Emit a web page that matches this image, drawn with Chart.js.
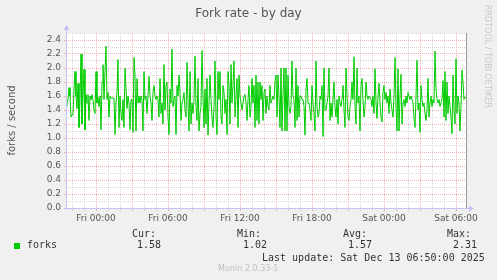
<!DOCTYPE html>
<html>
<head>
<meta charset="utf-8">
<script src="https://cdn.jsdelivr.net/npm/chart.js@4/dist/chart.umd.min.js"></script>
<style>
  html, body { margin: 0; padding: 0; background: #f0f0f0; }
  #wrap { position: relative; width: 497px; height: 280px; overflow: hidden; }
  #wrap canvas { position: absolute; left: 0; top: 0; }
  .t { position: absolute; white-space: pre; line-height: 10px; }
  .mono { font-family: "DejaVu Sans Mono", monospace; font-size: 10px; color: #333; }
</style>
</head>
<body>
<div id="wrap">
  <canvas id="forkChart" width="497" height="280"></canvas>
  <div class="t" id="title" style="left:0;width:497px;text-align:center;top:7px;font:12px 'DejaVu Sans';line-height:12px;color:#555;">Fork rate - by day</div>
  <div class="t" style="left:482px;top:5px;font:8px 'DejaVu Sans';line-height:10px;color:#c8c8c8;writing-mode:vertical-rl;">RRDTOOL / TOBI OETIKER</div>
  <div style="position:absolute;left:14px;top:243px;width:6px;height:6px;background:#00cc00;"></div>
  <div class="t mono" style="left:27px;top:240px;" id="seriesName"></div>
  <div class="t mono" style="left:132px;top:229px;">Cur:</div>
  <div class="t mono" style="left:137px;top:240px;" id="cur"></div>
  <div class="t mono" style="left:237px;top:229px;">Min:</div>
  <div class="t mono" style="left:243px;top:240px;" id="min"></div>
  <div class="t mono" style="left:343px;top:229px;">Avg:</div>
  <div class="t mono" style="left:348px;top:240px;" id="avg"></div>
  <div class="t mono" style="left:447px;top:229px;">Max:</div>
  <div class="t mono" style="left:453px;top:240px;" id="max"></div>
  <div class="t mono" style="left:262px;top:253px;">Last update: Sat Dec 13 06:50:00 2025</div>
  <div class="t" style="left:218px;top:265px;font:8px 'DejaVu Sans';line-height:8px;color:#c0c0c0;">Munin 2.0.33-1</div>
</div>
<script>
// forks per second, 5 minute samples, Thu 21:30 -> Sat 06:50
const seriesName = 'forks';
const forks = [
  1.45, 1.5,
  1.55, 1.72, 1.6, 1.3, 1.33, 1.35, 1.7, 1.95, 1.6, 1.42,
  1.78, 1.15, 1.55, 2.2, 1.2, 1.6, 1.98, 1.12, 1.62, 1.5,
  1.62, 1.25, 1.6, 1.55, 1.62, 1.55, 1.4, 1.35, 1.95, 1.5,
  1.58, 1.45, 1.6, 1.12, 1.8, 2.05, 1.55, 1.95, 2.31, 1.55,
  1.65, 1.3, 1.6, 1.57, 1.57, 1.57, 1.57, 1.05, 1.5, 1.65,
  2.12, 1.15, 1.6, 1.35, 1.25, 1.55, 1.15, 2.0, 1.7, 1.42,
  1.6, 1.5, 1.12, 1.55, 1.55, 1.08, 2.15, 1.9, 1.1, 1.85,
  1.5, 1.6, 1.5, 1.6, 1.55, 1.1, 1.95, 1.55, 1.6, 1.35,
  1.6, 1.88, 1.6, 1.5, 1.25, 1.65, 1.75, 1.6, 1.55, 1.6,
  1.55, 1.3, 1.85, 1.35, 1.5, 1.2, 2.05, 1.4, 1.75, 1.8,
  1.3,
  1.05, 1.7, 1.5, 2.27, 1.45, 1.55, 1.6, 1.05, 1.75, 1.6,
  1.9, 1.65, 1.25, 1.5, 1.55, 1.65, 1.4, 1.3, 2.08, 1.5,
  1.1, 1.95, 1.2, 1.5, 1.35, 1.55, 2.17, 1.45, 1.25, 1.85,
  1.1, 1.35, 1.45, 2.25, 1.6, 1.15, 1.7, 1.2, 1.85, 1.04,
  1.5, 1.9, 1.55, 1.3, 1.15, 1.45, 2.1, 1.3, 1.05, 1.95,
  1.55, 1.95, 1.3, 1.2, 1.75, 1.65, 1.35, 1.55, 1.05, 1.95,
  1.75, 1.2, 2.05, 1.5, 1.75, 2.1, 1.3, 1.6, 1.85, 1.15,
  1.9, 1.6, 1.5, 1.4, 1.5, 1.6, 1.62, 1.5, 1.25, 1.55,
  1.75, 1.3, 1.45, 1.85, 1.5, 1.75, 1.15, 1.9, 1.25, 1.8,
  1.2, 1.8, 1.55, 1.75, 1.25, 1.65, 1.7, 1.35, 1.6, 1.45,
  1.4,
  1.75, 1.5, 1.55, 1.6, 1.55, 1.8, 1.9, 1.3, 1.9, 1.6,
  1.15, 2.0, 1.1, 1.6, 2.0, 1.1, 2.0, 1.1, 1.9, 1.45,
  1.35, 1.45, 2.1, 1.6, 1.55, 1.15, 2.0, 1.25, 1.75, 1.3,
  1.6, 1.6, 1.55, 1.55, 1.45, 1.04, 1.7, 1.85, 1.5, 1.5,
  1.4, 1.25, 1.75, 1.5, 1.35, 1.1, 2.1, 1.45, 1.3, 1.35,
  1.6, 1.55, 1.75, 1.02, 2.0, 1.4, 1.4, 1.5, 1.6, 2.0,
  1.25, 1.5, 1.3, 1.55, 1.8, 1.45, 1.3, 1.55, 1.2, 1.6,
  1.5, 1.45, 1.55, 1.75, 1.4, 1.15, 2.0, 1.6, 1.3, 1.25,
  1.45, 1.55, 1.8, 1.55, 2.16, 1.45, 1.2, 2.0, 1.5, 1.6,
  1.1, 1.75, 1.85, 1.55, 1.3, 1.45, 1.8, 1.6, 1.55, 1.6,
  1.58, 1.55, 1.45, 1.6, 1.35, 1.99, 1.5, 1.28, 1.6, 1.78,
  1.5, 1.3, 1.23, 1.65, 1.75, 1.55, 1.65, 1.5, 1.6, 1.35,
  1.7, 1.5, 1.4, 1.3, 1.6, 2.15, 1.45, 1.1, 1.99, 1.1,
  1.6, 1.91, 1.2, 1.5, 1.55, 1.45, 1.6, 1.5, 1.65, 1.6,
  1.55, 1.6, 1.55, 1.5, 1.28, 1.15, 1.6, 2.11, 1.4, 1.5,
  1.08, 1.75, 1.55, 1.45, 1.5, 1.35, 1.25, 1.4, 1.85, 1.3,
  1.5, 1.6, 1.45, 1.55, 1.5, 2.24, 1.7, 1.55, 1.5, 1.55,
  1.45, 1.5, 1.55, 1.82, 1.3, 1.95, 1.25, 1.8, 1.35, 1.6,
  1.45, 1.3, 1.06, 1.9, 1.4, 1.2, 2.13, 1.35, 1.6, 1.5,
  1.1, 1.45, 1.97, 1.8, 1.55, 1.58, 1.58
];
// legend figures as printed by munin
const legendCur = '1.58';
const legendMin = '1.02';
const legendAvg = '1.57';
const legendMax = '2.31';

// time axis in hours relative to Fri 00:00
const lastSampleHour = 30 + 50 / 60;   // Sat 06:50
const sampleHours = 5 / 60;
const xMin = -2.5;
const xMax = lastSampleHour;
const hourTicks = [];
for (let h = -2; h <= 30; h++) hourTicks.push(h);
const yTicks = [];
for (let i = 0; i <= 25; i++) yTicks.push(i / 10);

document.getElementById('seriesName').textContent = seriesName;
document.getElementById('cur').textContent = legendCur;
document.getElementById('min').textContent = legendMin;
document.getElementById('avg').textContent = legendAvg;
document.getElementById('max').textContent = legendMax;

const points = forks.map((v, i) => ({
  x: lastSampleHour - (forks.length - 1 - i) * sampleHours,
  y: v
}));

const MAJOR = 'rgba(230, 130, 130, 0.6)';
const MINOR = 'rgba(200, 200, 200, 0.75)';
const AXIS = '#c4c4f4';

// white plot background + munin style axes with arrows
const muninFrame = {
  id: 'muninFrame',
  beforeDraw(chart) {
    const { ctx, chartArea: a } = chart;
    ctx.save();
    ctx.fillStyle = '#ffffff';
    ctx.fillRect(a.left, a.top, a.right - a.left, a.bottom - a.top);
    ctx.restore();
  },
  afterDraw(chart) {
    const { ctx, chartArea: a } = chart;
    ctx.save();
    // right edge line
    ctx.strokeStyle = '#999999';
    ctx.lineWidth = 1;
    ctx.beginPath();
    ctx.moveTo(a.right + 0.5, a.top);
    ctx.lineTo(a.right + 0.5, a.bottom);
    ctx.stroke();
    // axes
    ctx.strokeStyle = AXIS;
    ctx.fillStyle = AXIS;
    ctx.beginPath();
    ctx.moveTo(a.left + 0.5, a.bottom + 2);
    ctx.lineTo(a.left + 0.5, a.top - 4);
    ctx.moveTo(a.left - 2, a.bottom + 0.5);
    ctx.lineTo(a.right + 4, a.bottom + 0.5);
    ctx.stroke();
    ctx.beginPath();
    ctx.moveTo(a.left + 0.5, a.top - 8);
    ctx.lineTo(a.left - 2.5, a.top - 3);
    ctx.lineTo(a.left + 3.5, a.top - 3);
    ctx.closePath();
    ctx.fill();
    ctx.beginPath();
    ctx.moveTo(a.right + 8, a.bottom + 0.5);
    ctx.lineTo(a.right + 3, a.bottom - 2.5);
    ctx.lineTo(a.right + 3, a.bottom + 3.5);
    ctx.closePath();
    ctx.fill();
    ctx.restore();
  }
};

function hourLabel(h) {
  if (h % 6 !== 0) return '';
  const day = h < 24 ? 'Fri' : 'Sat';
  const hh = ((h % 24) + 24) % 24;
  return day + ' ' + String(hh).padStart(2, '0') + ':00';
}

const chart = new Chart(document.getElementById('forkChart'), {
  type: 'line',
  data: {
    datasets: [{
      label: seriesName,
      data: points,
      borderColor: '#00cc00',
      borderWidth: 1,
      pointRadius: 0,
      tension: 0,
      fill: false
    }]
  },
  options: {
    responsive: false,
    animation: false,
    layout: { padding: { left: 0, top: 33, right: 31, bottom: 52 } },
    plugins: {
      legend: { display: false },
      title: { display: false },
      tooltip: { enabled: false }
    },
    scales: {
      x: {
        type: 'linear',
        min: xMin,
        max: xMax,
        afterBuildTicks: s => { s.ticks = hourTicks.map(v => ({ value: v })); },
        afterFit: s => { s.height = 20; },
        ticks: {
          autoSkip: false,
          maxRotation: 0,
          padding: 2,
          color: '#555',
          font: { family: 'DejaVu Sans', size: 9 },
          callback: v => hourLabel(Math.round(v))
        },
        grid: {
          color: c => (Math.round(c.tick.value) % 3 === 0 ? MAJOR : MINOR),
          tickColor: c => (Math.round(c.tick.value) % 3 === 0 ? MAJOR : MINOR),
          tickLength: 3,
          lineWidth: 1,
          borderDash: [1, 1]
        },
        border: { display: false, dash: [1, 1] }
      },
      y: {
        type: 'linear',
        min: 0,
        max: 2.5,
        afterBuildTicks: s => { s.ticks = yTicks.map(v => ({ value: v })); },
        afterFit: s => { s.width = 66; },
        ticks: {
          autoSkip: false,
          padding: 3,
          color: '#555',
          font: { family: 'DejaVu Sans', size: 9 },
          callback: v => (Math.round(v * 10) % 2 === 0 ? v.toFixed(1) : '')
        },
        grid: {
          color: c => (c.tick.value > 0 && Math.round(c.tick.value * 10) % 2 === 0 ? MAJOR : MINOR),
          tickColor: c => (Math.round(c.tick.value * 10) % 2 === 0 ? MAJOR : 'rgba(0,0,0,0)'),
          tickLength: 2,
          lineWidth: 1,
          borderDash: [1, 1]
        },
        border: { display: false, dash: [1, 1] },
        title: {
          display: true,
          text: 'forks / second',
          color: '#555',
          font: { family: 'DejaVu Sans', size: 10 },
          padding: { top: 6, bottom: 0 }
        }
      }
    }
  },
  plugins: [muninFrame]
});
</script>
</body>
</html>
